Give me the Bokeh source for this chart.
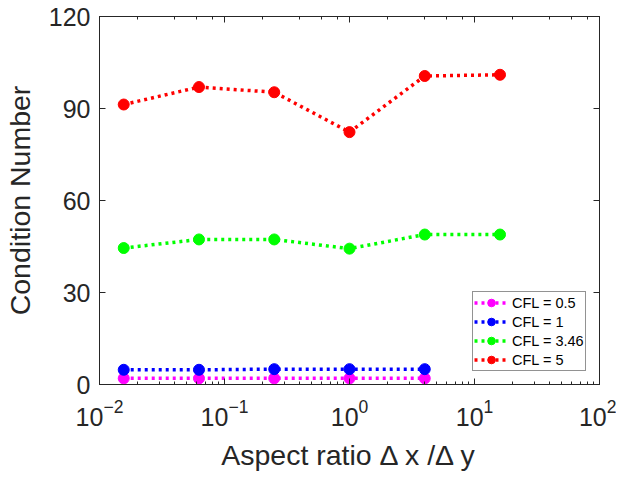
from bokeh.plotting import figure
from bokeh.models import LinearAxis, LogAxis, Legend, LegendItem, FixedTicker, Range1d
from bokeh.embed import file_html
from bokeh.resources import INLINE

aspect = [1/64, 1/16, 1/4, 1, 4, 16]
cfl_05 = [2, 2, 2, 2, 2]
cfl_1 = [4.8, 4.8, 5, 5, 5]
cfl_346 = [44.5, 47.3, 47.3, 44.3, 48.9, 48.9]
cfl_5 = [91.3, 97, 95.3, 82.3, 100.6, 101]
series = [("CFL = 0.5", cfl_05, "#ff00ff"), ("CFL = 1", cfl_1, "#0000ff"),
          ("CFL = 3.46", cfl_346, "#00ff00"), ("CFL = 5", cfl_5, "#ff0000")]
yticks = [0, 30, 60, 90, 120]

FONT = "Liberation Sans"
AX = "#262626"

p = figure(width=616, height=474, x_axis_type="log", output_backend="svg",
           toolbar_location=None, x_range=Range1d(0.01, 100), y_range=Range1d(0, 120),
           min_border_left=97, min_border_right=17, min_border_top=16, min_border_bottom=90)
p.grid.visible = False
p.outline_line_color = AX
p.outline_line_width = 1

def style(ax, labels=True):
    ax.axis_line_color = AX
    ax.major_tick_line_color = AX
    ax.minor_tick_line_color = AX
    ax.major_tick_in = 6
    ax.major_tick_out = 0
    ax.minor_tick_in = 3
    ax.minor_tick_out = 0
    ax.major_label_text_font = FONT
    ax.major_label_text_font_size = "25px"
    ax.major_label_text_color = AX
    ax.axis_label_text_font = FONT
    ax.axis_label_text_font_size = "28.5px"
    ax.axis_label_text_font_style = "normal"
    ax.axis_label_text_color = AX
    if not labels:
        ax.major_label_text_color = None
        ax.major_label_text_font_size = "1px"

xa = p.xaxis[0]
ya = p.yaxis[0]
style(xa)
style(ya)
ya.ticker = FixedTicker(ticks=yticks)
ya.minor_tick_line_color = None
xa.axis_label = "Aspect ratio \u0394 x /\u0394 y"
ya.axis_label = "Condition Number"
xa.major_label_standoff = 14
ya.major_label_standoff = 9
xa.axis_label_standoff = 10
ya.axis_label_standoff = 10

ra = LinearAxis(ticker=FixedTicker(ticks=yticks))
style(ra, labels=False)
ra.minor_tick_line_color = None
p.add_layout(ra, "right")
ta = LogAxis()
style(ta, labels=False)
p.add_layout(ta, "above")

items = []
for name, ys, col in series:
    xs = aspect[:len(ys)]
    l = p.line(xs, ys, line_color=col, line_width=3.5, line_dash="3 4")
    s = p.scatter(xs, ys, marker="circle", size=11, fill_color=col, line_color=col)
    items.append(LegendItem(label=name, renderers=[l, s]))

leg = Legend(items=items, location=(373, 13))
leg.label_text_font = FONT
leg.label_text_font_size = "14.5px"
leg.label_text_color = "#000000"
leg.border_line_color = AX
leg.border_line_width = 1
leg.glyph_width = 34
leg.glyph_height = 19
leg.spacing = 0
leg.padding = 1
leg.margin = 0
leg.label_standoff = 4
leg.label_height = 19
p.add_layout(leg, "center")

open("out.html", "w").write(file_html(p, INLINE))
